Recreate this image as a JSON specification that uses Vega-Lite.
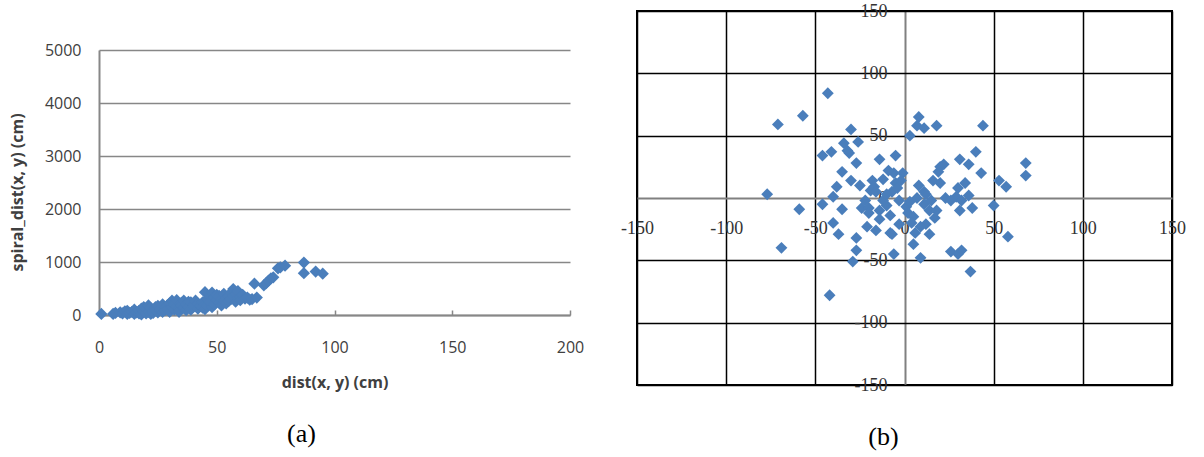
{
  "$schema": "https://vega.github.io/schema/vega-lite/v6.json",
  "background": "white",
  "padding": {"left": 9, "top": 1, "right": 5, "bottom": 5},
  "spacing": 35,
  "datasets": {
    "a": [
      {"d": 1, "s": 20}, {"d": 6, "s": 20}, {"d": 7, "s": 40}, {"d": 9, "s": 50}, {"d": 10, "s": 30},
      {"d": 11, "s": 70}, {"d": 12, "s": 80}, {"d": 12, "s": 20}, {"d": 13, "s": 40}, {"d": 14, "s": 60},
      {"d": 15, "s": 20}, {"d": 15, "s": 100}, {"d": 16, "s": 50}, {"d": 17, "s": 30}, {"d": 17, "s": 80},
      {"d": 18, "s": 10}, {"d": 18, "s": 120}, {"d": 19, "s": 60}, {"d": 19, "s": 150}, {"d": 20, "s": 30},
      {"d": 20, "s": 100}, {"d": 21, "s": 180}, {"d": 21, "s": 60}, {"d": 22, "s": 20}, {"d": 22, "s": 130},
      {"d": 23, "s": 80}, {"d": 23, "s": 40}, {"d": 24, "s": 150}, {"d": 24, "s": 100}, {"d": 25, "s": 50},
      {"d": 25, "s": 170}, {"d": 26, "s": 90}, {"d": 26, "s": 120}, {"d": 27, "s": 60}, {"d": 27, "s": 200},
      {"d": 28, "s": 140}, {"d": 28, "s": 90}, {"d": 29, "s": 180}, {"d": 29, "s": 110}, {"d": 30, "s": 60},
      {"d": 30, "s": 220}, {"d": 31, "s": 150}, {"d": 31, "s": 270}, {"d": 32, "s": 100}, {"d": 32, "s": 200},
      {"d": 33, "s": 170}, {"d": 33, "s": 280}, {"d": 34, "s": 120}, {"d": 34, "s": 60}, {"d": 35, "s": 230},
      {"d": 35, "s": 180}, {"d": 36, "s": 140}, {"d": 36, "s": 270}, {"d": 37, "s": 90}, {"d": 37, "s": 200},
      {"d": 38, "s": 250}, {"d": 38, "s": 150}, {"d": 39, "s": 240}, {"d": 39, "s": 100}, {"d": 40, "s": 190},
      {"d": 40, "s": 160}, {"d": 41, "s": 270}, {"d": 42, "s": 120}, {"d": 42, "s": 210}, {"d": 43, "s": 170},
      {"d": 44, "s": 240}, {"d": 44, "s": 140}, {"d": 45, "s": 200}, {"d": 45, "s": 430}, {"d": 45, "s": 110},
      {"d": 46, "s": 300}, {"d": 46, "s": 180}, {"d": 47, "s": 350}, {"d": 47, "s": 250}, {"d": 48, "s": 150},
      {"d": 48, "s": 420}, {"d": 49, "s": 330}, {"d": 49, "s": 200}, {"d": 50, "s": 280}, {"d": 50, "s": 380},
      {"d": 51, "s": 360}, {"d": 51, "s": 240}, {"d": 52, "s": 300}, {"d": 52, "s": 180}, {"d": 53, "s": 270},
      {"d": 53, "s": 400}, {"d": 54, "s": 320}, {"d": 54, "s": 220}, {"d": 55, "s": 350}, {"d": 55, "s": 260},
      {"d": 56, "s": 420}, {"d": 56, "s": 300}, {"d": 57, "s": 490}, {"d": 57, "s": 370}, {"d": 58, "s": 400},
      {"d": 58, "s": 250}, {"d": 59, "s": 330}, {"d": 59, "s": 450}, {"d": 60, "s": 340}, {"d": 60, "s": 280},
      {"d": 61, "s": 380}, {"d": 62, "s": 310}, {"d": 63, "s": 330}, {"d": 64, "s": 290}, {"d": 65, "s": 300},
      {"d": 66, "s": 590}, {"d": 67, "s": 330}, {"d": 70, "s": 560}, {"d": 71, "s": 600}, {"d": 72, "s": 650},
      {"d": 73, "s": 690}, {"d": 74, "s": 710}, {"d": 76, "s": 880}, {"d": 77, "s": 900}, {"d": 79, "s": 930},
      {"d": 87, "s": 990}, {"d": 87, "s": 790}, {"d": 92, "s": 820}, {"d": 95, "s": 780}
    ],
    "b": [
      {"x": -43, "y": 84}, {"x": -57, "y": 66}, {"x": -71, "y": 59}, {"x": -77, "y": 3}, {"x": -59, "y": -9},
      {"x": -69, "y": -40}, {"x": -42, "y": -78}, {"x": -46, "y": -5}, {"x": -46, "y": 34}, {"x": -41, "y": 37},
      {"x": -34, "y": 44}, {"x": -31, "y": 36}, {"x": -32, "y": 38}, {"x": -30, "y": 55}, {"x": -26, "y": 45},
      {"x": -27, "y": 28}, {"x": -35, "y": 21}, {"x": -30, "y": 14}, {"x": -25, "y": 10}, {"x": -38, "y": 9},
      {"x": -40, "y": 1}, {"x": -35, "y": -9}, {"x": -40, "y": -20}, {"x": -37, "y": -29}, {"x": -27, "y": -32},
      {"x": -27, "y": -42}, {"x": -29, "y": -51}, {"x": -21, "y": -23}, {"x": -16, "y": -26}, {"x": -14, "y": -17},
      {"x": -8, "y": -28}, {"x": -6, "y": -45}, {"x": -24, "y": -8}, {"x": -22, "y": -2}, {"x": -19, "y": 6},
      {"x": -18, "y": 14}, {"x": -17, "y": 9}, {"x": -14, "y": 31}, {"x": -5, "y": 34}, {"x": -6, "y": 20},
      {"x": -1, "y": 20}, {"x": -5, "y": 12}, {"x": -7, "y": 5}, {"x": -10, "y": -6}, {"x": -14, "y": -10},
      {"x": -20, "y": -8}, {"x": -3, "y": -2}, {"x": 1, "y": -7}, {"x": -7, "y": -29}, {"x": -3, "y": -21},
      {"x": 5, "y": -15}, {"x": 5, "y": -37}, {"x": 9, "y": -48}, {"x": 3, "y": 50}, {"x": 8, "y": 65},
      {"x": 7, "y": 58}, {"x": 11, "y": 56}, {"x": 18, "y": 58}, {"x": 44, "y": 58}, {"x": 8, "y": 10},
      {"x": 11, "y": 5}, {"x": 7, "y": 0}, {"x": 11, "y": -5}, {"x": 14, "y": -10}, {"x": 18, "y": -10},
      {"x": 17, "y": -16}, {"x": 12, "y": -21}, {"x": 14, "y": -29}, {"x": 16, "y": 14}, {"x": 19, "y": 21},
      {"x": 20, "y": 25}, {"x": 22, "y": 27}, {"x": 23, "y": 0}, {"x": 31, "y": 31}, {"x": 36, "y": 27},
      {"x": 40, "y": 37}, {"x": 43, "y": 20}, {"x": 30, "y": 8}, {"x": 29, "y": 1}, {"x": 36, "y": 2},
      {"x": 32, "y": -2}, {"x": 31, "y": -10}, {"x": 38, "y": -8}, {"x": 50, "y": -6}, {"x": 53, "y": 14},
      {"x": 57, "y": 9}, {"x": 58, "y": -31}, {"x": 26, "y": -43}, {"x": 30, "y": -45}, {"x": 32, "y": -42},
      {"x": 37, "y": -59}, {"x": 68, "y": 28}, {"x": 68, "y": 18}, {"x": -12, "y": -2}, {"x": -10, "y": 3},
      {"x": -16, "y": 5}, {"x": -12, "y": 15}, {"x": -4, "y": 8}, {"x": 2, "y": -12}, {"x": 4, "y": -20},
      {"x": 9, "y": -23}, {"x": 15, "y": -2}, {"x": 20, "y": 12}, {"x": -20, "y": -12}, {"x": -8, "y": -14},
      {"x": 3, "y": -3}, {"x": -9, "y": 22}, {"x": -2, "y": 14}, {"x": 6, "y": -28}, {"x": 12, "y": 3},
      {"x": 26, "y": -2}, {"x": 34, "y": 12}
    ]
  },
  "hconcat": [
    {
      "width": 471,
      "height": 304,
      "view": {"stroke": null, "fill": "white"},
      "data": {"name": "a"},
      "mark": {"type": "point", "shape": "diamond", "filled": true, "size": 150, "color": "#4A7EBB", "opacity": 1},
      "encoding": {
        "x": {
          "field": "d", "type": "quantitative",
          "scale": {"domain": [0, 200], "nice": false, "zero": false},
          "axis": {
            "title": "dist(x, y) (cm)", "values": [0, 50, 100, 150, 200], "grid": false, "format": "d",
            "domainColor": "#878787", "domainWidth": 2, "tickColor": "#878787", "tickWidth": 1.5, "tickSize": -5,
            "labelPadding": 29, "labelFont": "Open Sans", "labelFontSize": 16, "labelColor": "#404040",
            "labelFlush": false, "labelOverlap": false,
            "titleFont": "Open Sans", "titleFontSize": 16, "titleFontWeight": "bold", "titleColor": "#404040", "titlePadding": 19
          }
        },
        "y": {
          "field": "s", "type": "quantitative",
          "scale": {"domain": [0, 5000], "nice": false, "zero": false, "range": [304, 39]},
          "axis": {
            "title": "spiral_dist(x, y) (cm)", "values": [0, 1000, 2000, 3000, 4000, 5000], "grid": true, "format": "d",
            "gridColor": "#878787", "gridWidth": 1.5, "domainColor": "#878787", "domainWidth": 2, "ticks": false,
            "labelPadding": 18, "labelFont": "Open Sans", "labelFontSize": 16, "labelColor": "#404040",
            "labelFlush": false, "labelOverlap": false,
            "titleFont": "Open Sans", "titleFontSize": 16, "titleFontWeight": "bold", "titleColor": "#404040", "titlePadding": 19,
            "titleY": 181
          }
        }
      },
      "title": {"text": "(a)", "orient": "bottom", "font": "Liberation Serif", "fontSize": 26, "fontWeight": "normal", "color": "#000000", "frame": "group", "anchor": "middle", "dx": -33, "offset": 31}
    },
    {
      "width": 535,
      "height": 374,
      "view": {"stroke": "#000000", "strokeWidth": 2, "fill": "white"},
      "data": {"name": "b"},
      "mark": {"type": "point", "shape": "diamond", "filled": true, "size": 140, "color": "#4A7EBB", "opacity": 1},
      "encoding": {
        "x": {
          "field": "x", "type": "quantitative",
          "scale": {"domain": [-150, 150], "nice": false, "zero": false},
          "axis": {
            "title": null, "values": [-150, -100, -50, 0, 50, 100, 150], "grid": true,
            "gridColor": {"condition": {"test": "datum.value === 0", "value": "#808080"}, "value": "#000000"},
            "gridWidth": {"condition": {"test": "datum.value === 0", "value": 2}, "value": 1.5},
            "domain": false, "ticks": false, "offset": -187.5, "labelPadding": 22,
            "labelFont": "Liberation Serif", "labelFontSize": 18, "labelColor": "#333333",
            "labelFlush": false, "labelOverlap": false,
            "labelExpr": "datum.value < 0 ? '-' + (-datum.value) : '' + datum.value"
          }
        },
        "y": {
          "field": "y", "type": "quantitative",
          "scale": {"domain": [-150, 150], "nice": false, "zero": false},
          "axis": {
            "title": null, "values": [-150, -100, -50, 0, 50, 100, 150], "grid": true,
            "gridColor": {"condition": {"test": "datum.value === 0", "value": "#808080"}, "value": "#000000"},
            "gridWidth": {"condition": {"test": "datum.value === 0", "value": 2}, "value": 1.5},
            "domain": false, "ticks": false, "offset": -267.5, "labelPadding": 17.5,
            "labelFont": "Liberation Serif", "labelFontSize": 18, "labelColor": "#333333",
            "labelFlush": false, "labelOverlap": false,
            "labelExpr": "datum.value < 0 ? '-' + (-datum.value) : '' + datum.value"
          }
        }
      },
      "title": {"text": "(b)", "orient": "bottom", "font": "Liberation Serif", "fontSize": 26, "fontWeight": "normal", "color": "#000000", "frame": "group", "anchor": "middle", "dx": -21, "offset": 30}
    }
  ]
}
